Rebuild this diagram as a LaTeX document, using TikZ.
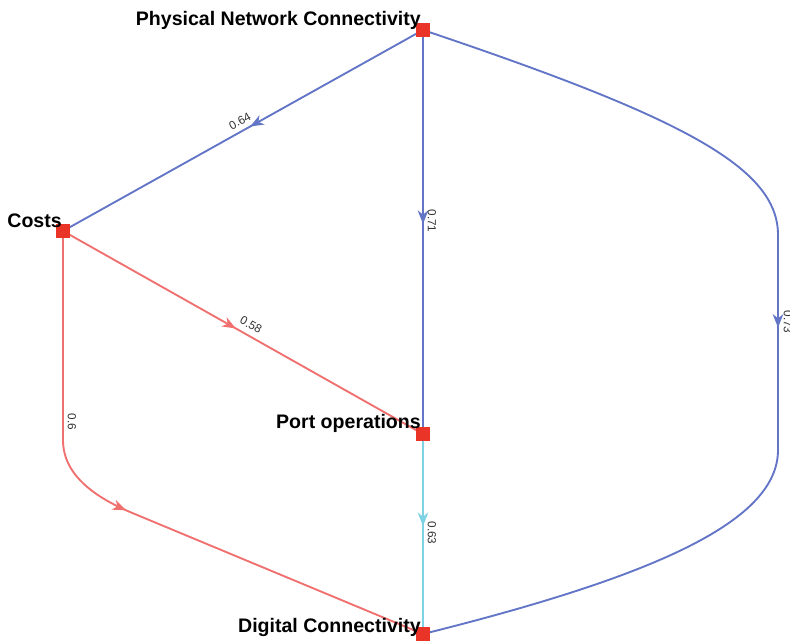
\documentclass[tikz,border=0pt]{standalone}
\usepackage{fontspec}
\setmainfont{Liberation Sans}
\usetikzlibrary{arrows.meta,decorations.markings,backgrounds}
\definecolor{eblue}{RGB}{98,117,198}
\definecolor{ered}{RGB}{240,112,112}
\definecolor{ecyan}{RGB}{125,210,228}
\definecolor{nred}{RGB}{234,52,40}
\definecolor{lgray}{RGB}{50,50,50}
\begin{document}
\begin{tikzpicture}[x=0.03cm,y=-0.03cm,
  vertex/.style={fill=nred,draw=none,minimum size=0.42cm,inner sep=0pt},
  vlabel/.style={font=\fontsize{16.7}{18}\selectfont\bfseries,text=black,inner sep=0pt},
  elabel/.style={font=\fontsize{10}{12}\selectfont,text=lgray,inner sep=0pt},
  midarrow/.style={postaction={decorate},decoration={markings,mark=at position #1 with {\arrow{Stealth[length=11.5pt,width=9pt,inset=3.5pt]}}}},
  link/.style={line width=1.6pt}]
\useasboundingbox (0,0) rectangle (790,640);
\clip (0,0) rectangle (790,640);
\node[vertex] (pnc) at (423,30) {};
\node[vertex] (cost) at (63,231) {};
\node[vertex] (port) at (423,434) {};
\node[vertex] (dig) at (423,634) {};
\node[vlabel,anchor=base east] (lpnc) at (421,25) {Physical Network Connectivity};
\node[vlabel,anchor=base east] (lcost) at (62,227) {Costs};
\node[vlabel,anchor=base east] (lport) at (421,428) {Port operations};
\node[vlabel,anchor=base east] (ldig) at (421,632) {Digital Connectivity};
\begin{scope}[on background layer]
\draw[link,eblue,midarrow=0.48] (pnc.center) -- (cost.center);
\draw[link,eblue,midarrow=0.48] (pnc.center) -- (port.center);
\draw[link,eblue,midarrow=0.49] (pnc.center) .. controls (685,118) and (778,168) .. (778,235) -- (778,450) .. controls (778,520) and (660,575) .. (dig.center);
\draw[link,ered,midarrow=0.48] (cost.center) -- (port.center);
\draw[link,ered,midarrow=0.49] (cost.center) -- (63,440) .. controls (63,475) and (95,497) .. (130,512) -- (dig.center);
\draw[link,ecyan,midarrow=0.46] (port.center) -- (dig.center);
\end{scope}
\node[elabel,rotate=29] (e1) at (240,121) {0.64};
\node[elabel,rotate=-90] (e2) at (432,221) {0.71};
\node[elabel,rotate=-90] (e3) at (788,322) {0.73};
\node[elabel,rotate=-29.4] (e4) at (251,325) {0.58};
\node[elabel,rotate=-90] (e5) at (72,422) {0.6};
\node[elabel,rotate=-90] (e6) at (432,533) {0.63};
\end{tikzpicture}
\end{document}
